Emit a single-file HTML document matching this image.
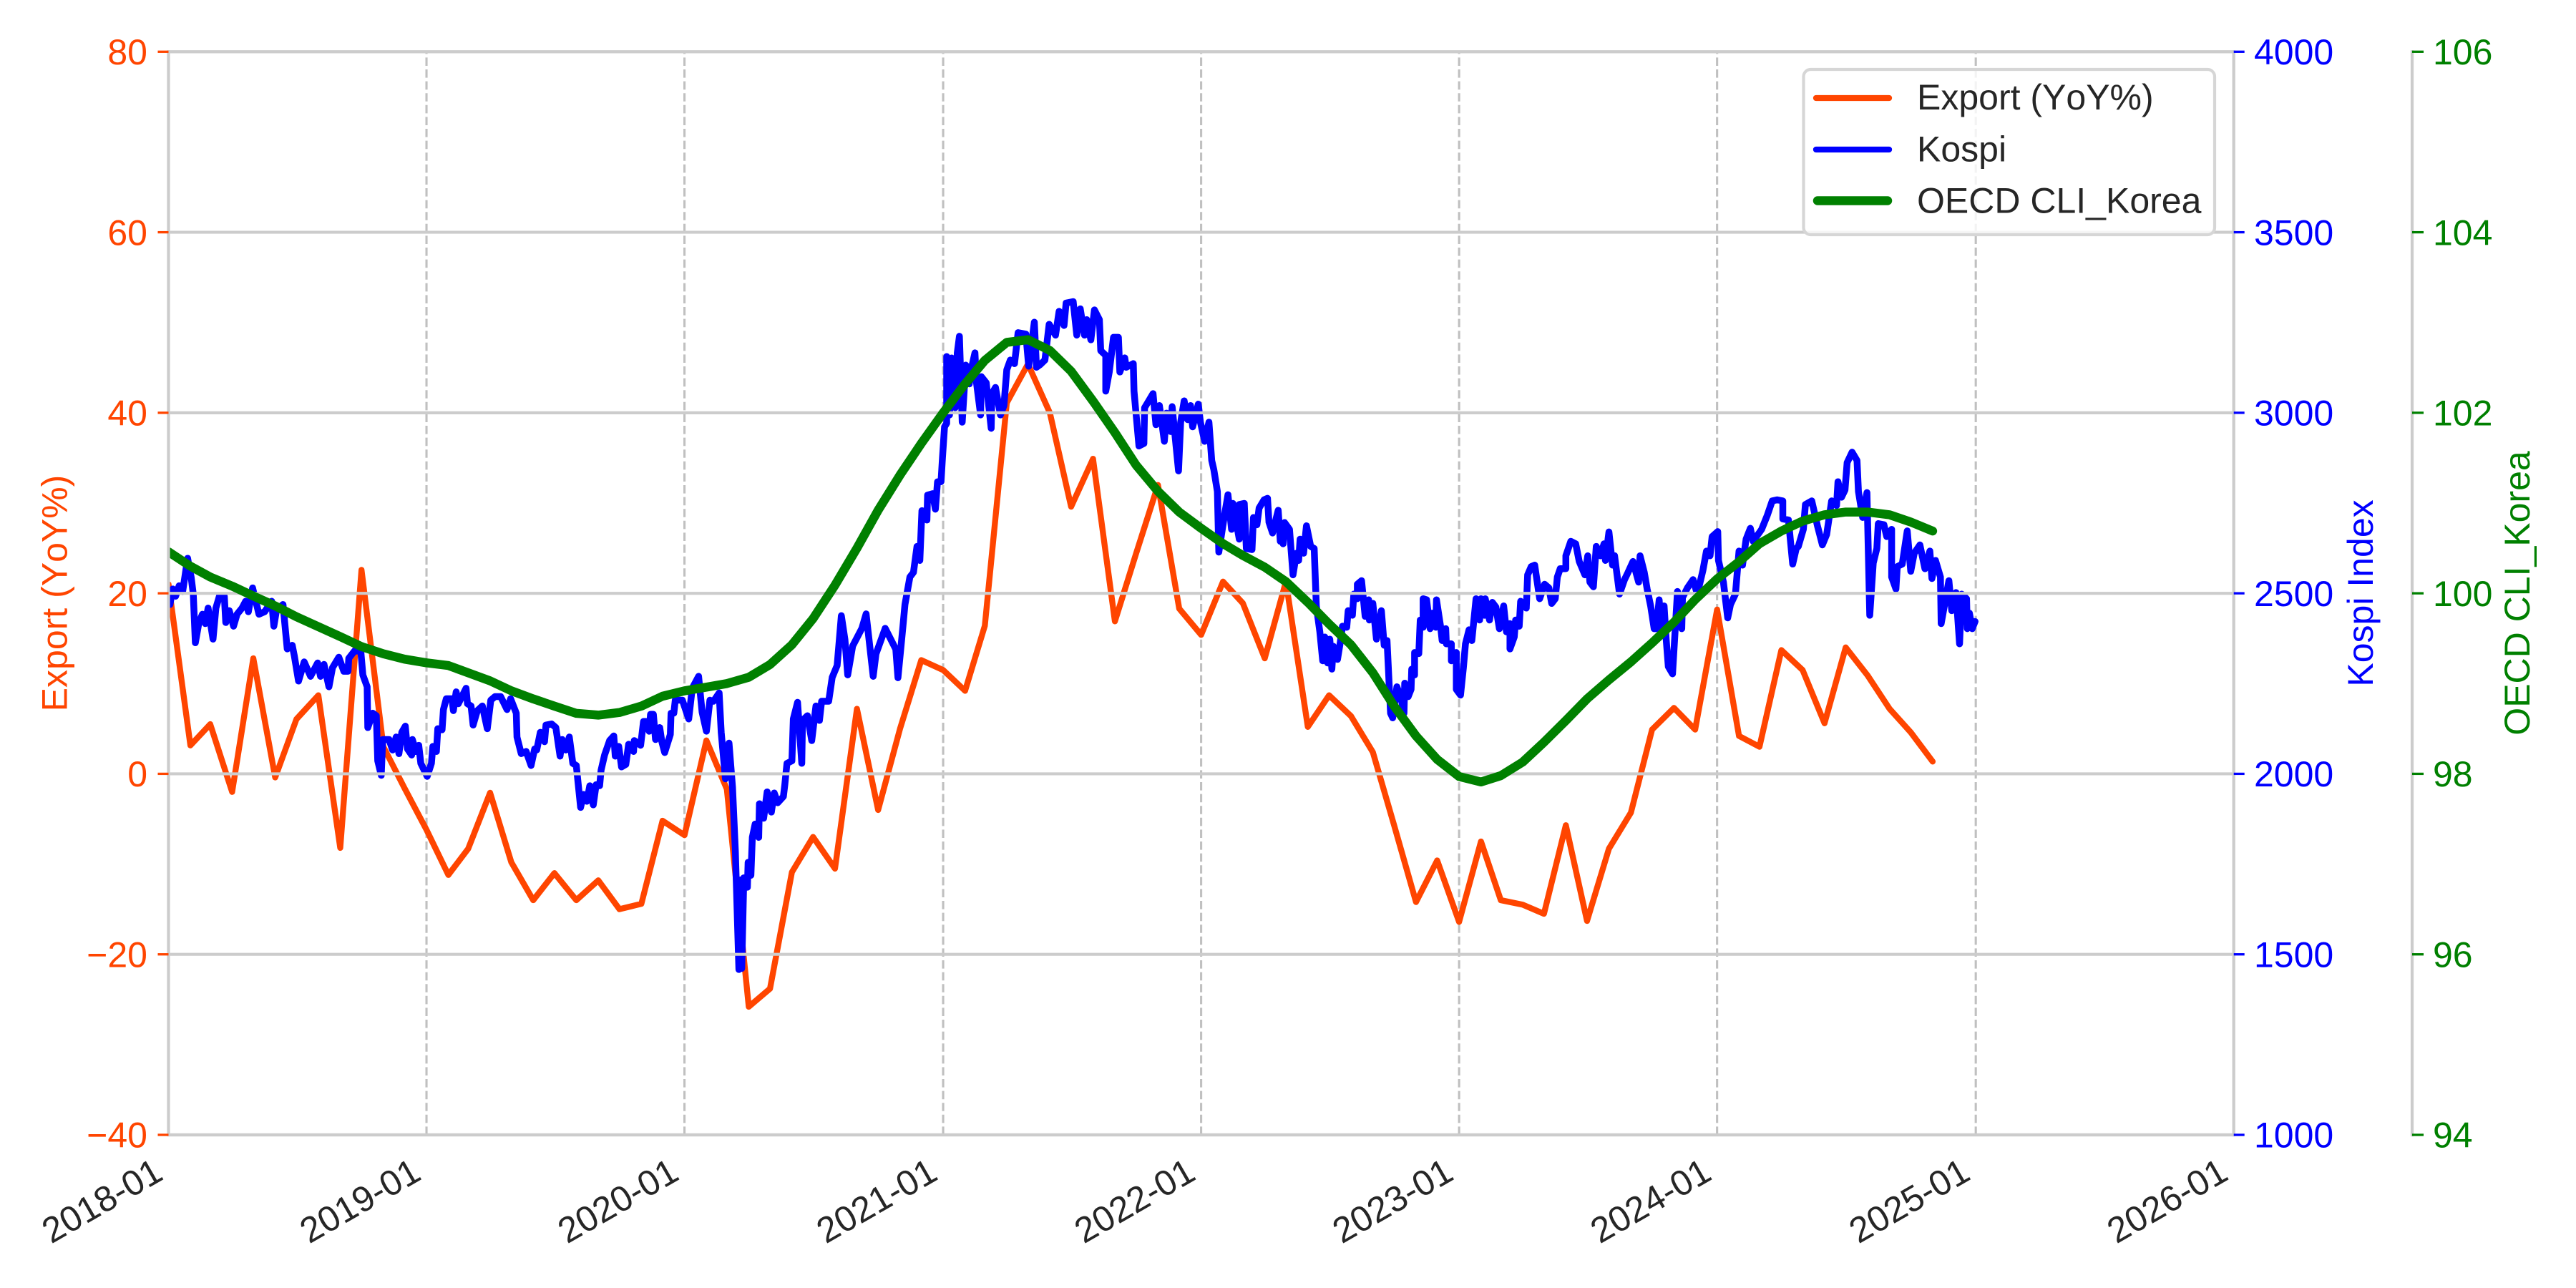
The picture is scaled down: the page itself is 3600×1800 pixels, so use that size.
<!DOCTYPE html>
<html lang="en">
<head>
<meta charset="utf-8">
<title>Export, Kospi and OECD CLI Korea</title>
<style>
html,body{margin:0;padding:0;background:#fff;width:3600px;height:1800px;overflow:hidden}
svg{display:block}
text{font-family:"Liberation Sans",Arial,sans-serif;font-size:50px;font-kerning:none}
</style>
</head>
<body>
<svg id="chart" xmlns="http://www.w3.org/2000/svg" width="3600" height="1800" viewBox="0 0 3600 1800">
  <defs><clipPath id="plot-clip"><rect x="235.5" y="72.3" width="2886.2" height="1513.7"/></clipPath></defs>
  <rect x="0" y="0" width="3600" height="1800" fill="#ffffff"/>
  <g id="vgrid"></g>
  <g id="series-export" clip-path="url(#plot-clip)"></g>
  <g id="series-kospi" clip-path="url(#plot-clip)"></g>
  <g id="hgrid"></g>
  <g id="series-cli" clip-path="url(#plot-clip)"></g>
  <g id="spines"></g>
  <g id="ticks"></g>
  <g id="tick-labels"></g>
  <text transform="translate(93.4 829) rotate(-90)" text-anchor="middle" fill="#FF4500">Export (YoY%)</text>
  <text transform="translate(3316 829) rotate(-90)" text-anchor="middle" fill="#0000FF">Kospi Index</text>
  <text transform="translate(3535 829) rotate(-90)" text-anchor="middle" fill="#008000">OECD CLI_Korea</text>
  <g>
    <rect x="2520.5" y="97" width="574.5" height="231" rx="10" ry="10" fill="#ffffff" fill-opacity="0.8" stroke="#d6d6d6" stroke-width="4.2"/>
    <line x1="2538" y1="137" x2="2640" y2="137" stroke="#FF4500" stroke-width="8.33" stroke-linecap="round"/>
    <text x="2679" y="153" fill="#262626">Export (YoY%)</text>
    <line x1="2538" y1="209" x2="2640" y2="209" stroke="#0000FF" stroke-width="8.33" stroke-linecap="round"/>
    <text x="2679" y="225.5" fill="#262626">Kospi</text>
    <line x1="2540" y1="280.5" x2="2638" y2="280.5" stroke="#008000" stroke-width="12.5" stroke-linecap="round"/>
    <text x="2679" y="297.5" fill="#262626">OECD CLI_Korea</text>
  </g>
</svg>
<script>
const xTickLabels = ['2018-01','2019-01','2020-01','2021-01','2022-01','2023-01','2024-01','2025-01','2026-01'];
const exportTicks = [-40,-20,0,20,40,60,80];
const kospiTicks = [1000,1500,2000,2500,3000,3500,4000];
const cliTicks = [94,96,98,100,102,104,106];

// Monthly readings, first value is 2018-01
const exportValues = [
21.0,3.15,5.5,-2.0,12.8,-0.4,6.06,8.7,-8.2,22.6,3.0,-1.6,
-6.2,-11.2,-8.3,-2.1,-9.8,-14.0,-11.0,-14.0,-11.8,-15.0,-14.4,-5.2,
-6.8,3.7,-1.7,-25.8,-23.8,-10.9,-7.0,-10.5,7.2,-4.0,5.0,12.6,
11.5,9.2,16.4,41.1,45.4,40.0,29.6,34.9,16.9,24.4,32.0,18.3,
15.4,21.3,18.9,12.8,21.3,5.2,8.7,6.4,2.4,-5.7,-14.2,-9.6,
-16.4,-7.5,-14.0,-14.5,-15.5,-5.7,-16.3,-8.3,-4.3,4.9,7.3,4.9,
18.2,4.2,3.0,13.7,11.5,5.6,14.0,10.9,7.2,4.6,1.36];
const cliValues = [
100.46,100.30,100.18,100.08,99.97,99.86,99.74,99.63,99.52,99.41,99.33,99.27,
99.23,99.20,99.12,99.03,98.92,98.83,98.75,98.67,98.65,98.68,98.75,98.86,
98.92,98.96,99.00,99.07,99.21,99.43,99.72,100.09,100.50,100.92,101.31,101.66,
102.00,102.32,102.58,102.78,102.81,102.69,102.46,102.13,101.78,101.42,101.13,100.90,
100.72,100.55,100.42,100.29,100.13,99.90,99.66,99.43,99.12,98.75,98.42,98.16,
97.97,97.91,97.98,98.13,98.35,98.59,98.83,99.04,99.24,99.45,99.68,99.93,
100.16,100.35,100.55,100.69,100.80,100.87,100.90,100.90,100.87,100.79,100.69];

// Kospi readings: days since 2018-01-01 and index level
const kospiDays = [
0,2,6,10,15,20,27,32,35,38,
43,48,52,56,63,67,72,79,81,86,
92,97,104,109,113,119,128,136,146,149,
153,162,168,175,178,184,192,201,211,215,
220,227,232,241,248,254,255,263,272,275,
281,282,289,294,296,301,303,312,317,322,
326,330,335,338,344,345,350,354,357,366,
372,374,379,381,387,389,393,401,403,407,
410,421,423,428,431,437,444,451,456,462,
470,479,484,492,493,499,506,513,518,521,
526,532,534,542,548,554,557,562,567,572,
577,583,587,592,596,601,605,610,612,617,
624,630,632,637,641,647,651,658,659,668,
672,676,680,682,686,689,695,698,702,710,
711,715,717,727,736,741,750,755,761,766,
771,779,782,788,793,798,802,807,809,811,
814,819,820,824,826,830,835,836,842,847,
853,857,862,870,872,875,882,884,890,896,
897,904,910,916,921,924,934,939,946,952,
957,961,968,981,987,997,1001,1014,1029,1032,
1039,1042,1049,1054,1059,1063,1066,1073,1074,1081,
1085,1088,1093,1095,1098,1101,1101,1105,1108,1113,
1116,1119,1123,1128,1133,1137,1141,1143,1149,1150,
1157,1164,1165,1170,1177,1182,1186,1191,1197,1202,
1213,1217,1221,1225,1228,1233,1240,1246,1255,1260,
1267,1270,1280,1285,1290,1296,1299,1305,1310,1317,
1319,1326,1326,1331,1337,1344,1346,1353,1355,1365,
1366,1373,1380,1381,1386,1393,1397,1402,1409,1412,
1418,1420,1429,1432,1437,1442,1446,1449,1457,1460,
1466,1472,1476,1479,1484,1486,1494,1499,1504,1506,
1515,1515,1522,1525,1533,1535,1540,1543,1550,1555,
1557,1562,1570,1573,1574,1577,1579,1586,1591,1596,
1599,1601,1606,1610,1616,1621,1624,1629,1633,1636,
1640,1643,1646,1648,1654,1658,1661,1667,1669,1675,
1677,1682,1682,1688,1693,1698,1699,1704,1709,1716,
1720,1724,1729,1732,1738,1744,1748,1749,1754,1758,
1759,1763,1763,1769,1771,1775,1775,1780,1785,1788,
1793,1794,1800,1802,1807,1808,1815,1815,1822,1822,
1828,1832,1835,1840,1844,1850,1855,1857,1862,1863,
1869,1873,1878,1883,1889,1893,1898,1898,1904,1906,
1911,1913,1921,1923,1928,1933,1940,1947,1953,1957,
1962,1965,1969,1977,1977,1984,1991,1996,2004,2008,
2011,2016,2020,2026,2031,2033,2038,2043,2046,2053,
2060,2065,2072,2080,2082,2088,2092,2097,2102,2105,
2109,2112,2116,2119,2122,2128,2135,2141,2142,2149,
2157,2163,2171,2176,2181,2184,2192,2193,2200,2206,
2210,2217,2222,2227,2232,2238,2242,2249,2254,2262,
2269,2276,2284,2284,2292,2298,2303,2306,2313,2316,
2325,2333,2340,2346,2353,2360,2362,2367,2372,2375,
2382,2389,2391,2397,2403,2407,2412,2417,2419,2427,
2431,2438,2438,2444,2446,2453,2460,2465,2470,2478,
2485,2492,2495,2500,2507,2508,2519,2523,2529,2534,
2537,2544,2545,2548,2552,2556];
const kospiValues = [
2469,2469,2512,2492,2521,2505,2597,2545,2498,2363,
2419,2442,2416,2459,2373,2459,2492,2492,2419,2452,
2409,2442,2459,2478,2449,2515,2442,2449,2478,2409,
2455,2469,2346,2356,2327,2257,2310,2270,2307,2270,
2303,2241,2294,2323,2284,2284,2320,2340,2340,2274,
2241,2128,2168,2161,2036,1996,2095,2095,2066,2102,
2056,2115,2132,2069,2052,2095,2062,2079,2029,1993,
2029,2076,2062,2125,2122,2178,2208,2208,2175,2227,
2194,2237,2194,2188,2135,2175,2188,2125,2204,2214,
2214,2178,2208,2168,2102,2056,2062,2023,2069,2066,
2115,2089,2135,2138,2128,2049,2095,2066,2102,2029,
2023,1907,1943,1924,1967,1914,1970,1967,2010,2052,
2092,2105,2049,2076,2019,2026,2082,2062,2092,2079,
2145,2145,2118,2165,2165,2095,2128,2089,2059,2109,
2168,2168,2204,2204,2152,2237,2270,2171,2118,2204,
2201,2224,2115,1986,2085,1963,1785,1458,1706,1461,
1712,1686,1755,1719,1824,1861,1824,1917,1877,1950,
1894,1947,1920,1937,1970,2029,2036,2152,2198,2029,
2148,2161,2092,2188,2148,2201,2201,2267,2300,2438,
2372,2274,2354,2403,2443,2270,2332,2403,2345,2266,
2407,2469,2545,2558,2630,2591,2729,2703,2772,2776,
2733,2809,2809,2875,2961,2971,3156,2994,3152,3014,
3166,3212,2974,3132,3080,3132,3166,3086,2994,3100,
3083,2957,3053,3070,2994,3020,3119,3146,3136,3222,
3218,3129,3189,3251,3126,3133,3146,3245,3215,3281,
3242,3304,3308,3215,3288,3215,3258,3202,3285,3258,
3172,3159,3060,3113,3209,3209,3113,3152,3126,3136,
3060,2908,2915,3014,3030,3053,2967,3020,2921,2999,
2948,3017,2839,2974,3033,2981,3020,2961,3024,2974,
2921,2974,2868,2842,2782,2614,2716,2773,2677,2749,
2650,2746,2749,2624,2621,2710,2690,2736,2759,2763,
2697,2667,2730,2644,2690,2637,2696,2677,2551,2611,
2591,2650,2611,2687,2630,2624,2465,2393,2313,2379,
2307,2373,2290,2353,2317,2366,2409,2406,2452,2439,
2498,2485,2525,2535,2436,2482,2426,2472,2373,2452,
2356,2369,2168,2155,2241,2208,2168,2251,2214,2234,
2290,2274,2336,2333,2426,2406,2485,2482,2402,2445,
2406,2482,2406,2369,2402,2360,2360,2313,2336,2234,
2218,2294,2360,2399,2369,2485,2426,2485,2439,2485,
2426,2475,2462,2402,2465,2393,2416,2346,2379,2426,
2409,2478,2459,2551,2574,2578,2485,2525,2515,2472,
2485,2545,2568,2568,2604,2644,2637,2588,2551,2604,
2531,2518,2630,2604,2637,2591,2670,2578,2604,2498,
2538,2558,2588,2531,2604,2558,2512,2465,2402,2402,
2482,2402,2465,2373,2297,2277,2505,2402,2488,2515,
2538,2498,2564,2617,2604,2657,2671,2591,2531,2432,
2469,2498,2617,2578,2650,2680,2644,2663,2677,2716,
2756,2759,2756,2706,2703,2581,2624,2630,2677,2746,
2756,2687,2634,2663,2756,2743,2809,2766,2786,2862,
2891,2868,2782,2710,2779,2439,2584,2624,2693,2690,
2657,2677,2545,2512,2574,2581,2673,2561,2611,2634,
2568,2617,2541,2591,2545,2416,2535,2452,2502,2360,
2498,2485,2402,2445,2402,2422];

const SVGNS = 'http://www.w3.org/2000/svg';
const plotLeft = 235.5, plotRight = 3121.7, plotTop = 72.3, plotBottom = 1586, thirdAxisX = 3371;
const startMs = Date.UTC(2018, 0, 1), endMs = Date.UTC(2026, 0, 1), dayMs = 86400000;

function xFromDay(day) {
  return plotLeft + day * dayMs / (endMs - startMs) * (plotRight - plotLeft);
}
function xFromMonth(index) {
  return xFromDay((Date.UTC(2018, index, 1) - startMs) / dayMs);
}
function yScale(ticks) {
  const lo = ticks[0], hi = ticks[ticks.length - 1];
  return function (v) { return plotBottom - (v - lo) / (hi - lo) * (plotBottom - plotTop); };
}
const yExport = yScale(exportTicks);
const yKospi = yScale(kospiTicks);
const yCli = yScale(cliTicks);

function svgEl(tag, attrs, parentId) {
  const el = document.createElementNS(SVGNS, tag);
  Object.keys(attrs).forEach(function (k) { el.setAttribute(k, attrs[k]); });
  document.getElementById(parentId).appendChild(el);
  return el;
}
function pathFrom(xs, ys) {
  return xs.map(function (x, i) { return (i ? 'L' : 'M') + x.toFixed(1) + ' ' + ys[i].toFixed(1); }).join('');
}

// vertical dashed grid and x tick labels
xTickLabels.forEach(function (label, i) {
  const parts = label.split('-');
  const x = xFromDay((Date.UTC(+parts[0], +parts[1] - 1, 1) - startMs) / dayMs);
  if (i > 0 && i < xTickLabels.length - 1) {
    const g = svgEl('line', {x1: x, y1: plotBottom, x2: x, y2: plotTop, stroke: '#c0c0c0', 'stroke-width': 3.1, 'stroke-dasharray': '11.6 5'}, 'vgrid');
    
    
  }
  const t = svgEl('text', {'text-anchor': 'end', fill: '#262626', transform: 'translate(' + (x - 5) + ' 1647) rotate(-30)'}, 'tick-labels');
  t.textContent = label;
  
  
});

// series
const exportPath = svgEl('path', {d: pathFrom(exportValues.map(function (v, i) { return xFromMonth(i); }), exportValues.map(yExport)), fill: 'none', stroke: '#FF4500', 'stroke-width': 8.33, 'stroke-linejoin': 'round', 'stroke-linecap': 'round'}, 'series-export');



const kospiPath = svgEl('path', {d: pathFrom(kospiDays.map(xFromDay), kospiValues.map(yKospi)), fill: 'none', stroke: '#0000FF', 'stroke-width': 9.5, 'stroke-linejoin': 'round', 'stroke-linecap': 'round'}, 'series-kospi');



const cliPath = svgEl('path', {d: pathFrom(cliValues.map(function (v, i) { return xFromMonth(i); }), cliValues.map(yCli)), fill: 'none', stroke: '#008000', 'stroke-width': 12.5, 'stroke-linejoin': 'round', 'stroke-linecap': 'round'}, 'series-cli');



// horizontal grid, left ticks and labels
exportTicks.forEach(function (v) {
  const y = yExport(v);
  const g = svgEl('line', {x1: plotLeft, y1: y, x2: plotRight, y2: y, stroke: '#cccccc', 'stroke-width': 4.17}, 'hgrid');
  
  
  const tk = svgEl('line', {x1: 220.5, y1: y, x2: plotLeft, y2: y, stroke: '#FF4500', 'stroke-width': 3.3}, 'ticks');
  
  
  const t = svgEl('text', {x: 206, y: y + 17.7, 'text-anchor': 'end', fill: '#FF4500'}, 'tick-labels');
  t.textContent = String(v).replace('-', '\u2212');
  
  
});

kospiTicks.forEach(function (v) {
  const y = yKospi(v);
  const tk = svgEl('line', {x1: plotRight, y1: y, x2: plotRight + 15, y2: y, stroke: '#0000FF', 'stroke-width': 3.3}, 'ticks');
  
  
  const t = svgEl('text', {x: 3150, y: y + 17.7, fill: '#0000FF'}, 'tick-labels');
  t.textContent = String(v);
  
  
});

cliTicks.forEach(function (v) {
  const y = yCli(v);
  const tk = svgEl('line', {x1: thirdAxisX, y1: y, x2: thirdAxisX + 16, y2: y, stroke: '#008000', 'stroke-width': 3.3}, 'ticks');
  
  
  const t = svgEl('text', {x: 3400, y: y + 17.7, fill: '#008000'}, 'tick-labels');
  t.textContent = String(v);
  
  
});

// spines
const spineLeft = svgEl('line', {x1: plotLeft, y1: plotTop - 2.1, x2: plotLeft, y2: plotBottom + 2.1, stroke: '#cccccc', 'stroke-width': 4.2}, 'spines');


const spineRight = svgEl('line', {x1: plotRight, y1: plotTop - 2.1, x2: plotRight, y2: plotBottom + 2.1, stroke: '#cccccc', 'stroke-width': 4.2}, 'spines');


const spineThird = svgEl('line', {x1: thirdAxisX, y1: plotTop - 2.1, x2: thirdAxisX, y2: plotBottom + 2.1, stroke: '#cccccc', 'stroke-width': 4.2}, 'spines');


const spineTop = svgEl('line', {x1: plotLeft, y1: plotTop, x2: plotRight, y2: plotTop, stroke: '#cccccc', 'stroke-width': 4.2}, 'spines');


const spineBottom = svgEl('line', {x1: plotLeft, y1: plotBottom, x2: plotRight, y2: plotBottom, stroke: '#cccccc', 'stroke-width': 4.2}, 'spines');


</script>
</body>
</html>
